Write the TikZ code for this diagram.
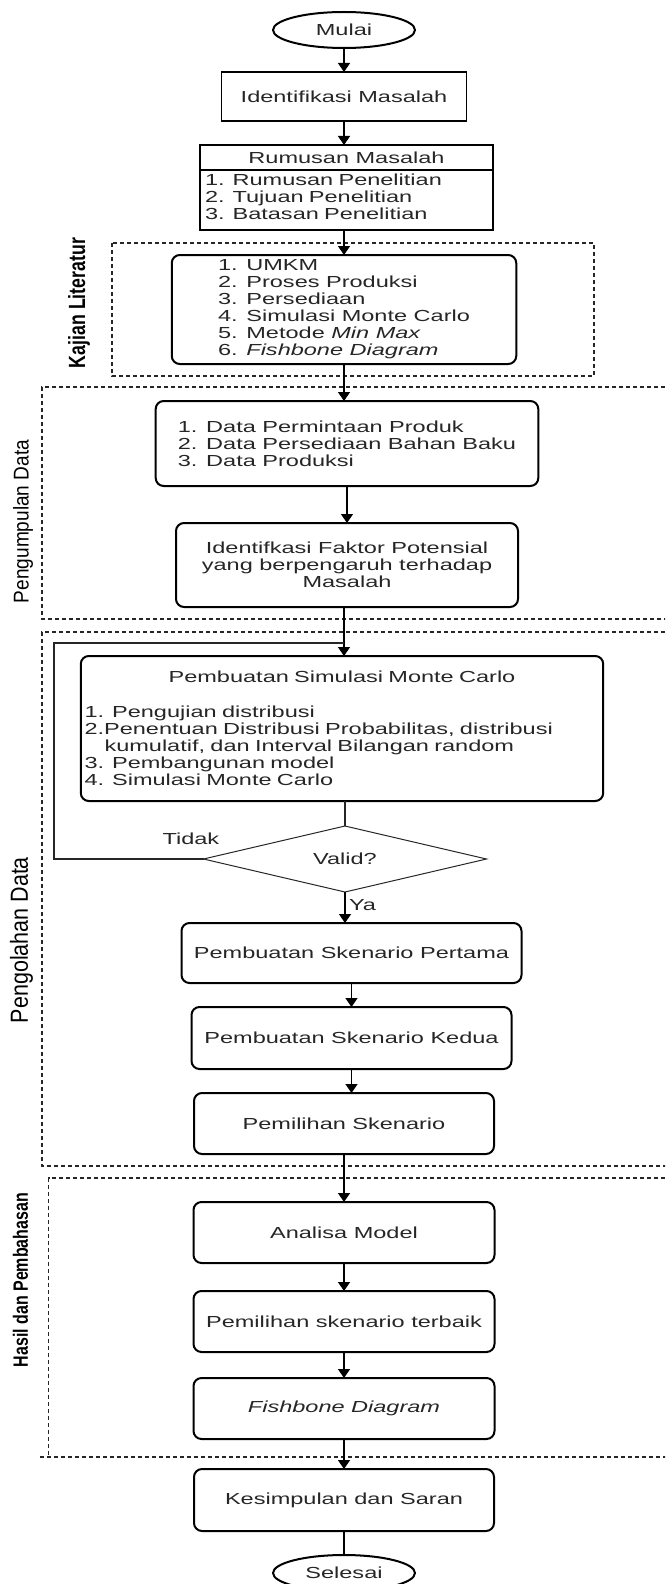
\documentclass[tikz,border=0pt]{standalone}
\usepackage{fontspec}
\usepackage{graphicx}
\setmainfont{Liberation Sans}
\newfontfamily\boxfont[FakeStretch=1.47]{Liberation Sans}
\usetikzlibrary{shapes.geometric, positioning, arrows.meta}
\definecolor{ink}{HTML}{262626}
\tikzset{node distance=24pt, % Default gap between two boxes
every node/.style={ % Text inside the boxes
font=\boxfont\fontsize{16}{17}\selectfont, text=ink},
term/.style={ % Start and end
ellipse, draw, line width=2pt, minimum width=142pt, minimum height=36pt, inner sep=0pt, outer sep=0pt},
plain/.style={ % Square boxes at the top
rectangle, draw, line width=1.4pt, inner sep=0pt, outer sep=0pt},
rbox/.style={ % Rounded process boxes
rectangle, draw, rounded corners=8pt, line width=2pt, inner sep=0pt, outer sep=0pt},
check/.style={ % Decision
diamond, aspect=4.3, draw=ink, line width=1pt, minimum width=283pt, minimum height=66pt, inner sep=0pt, outer sep=0pt},
frame/.style={ % Dashed section frames
draw=ink, line width=1.1pt, dash pattern=on 4pt off 3pt},
side/.style={ % Section names
rotate=90, text=black, inner sep=0pt, font=\rmfamily},
flow/.style={ % Connectors with arrow
draw, line width=1.4pt, -{Triangle[width=12pt,length=9pt]}},
link/.style={ % Connectors without arrow
draw=ink, line width=1.2pt}}

\begin{document}
\begin{tikzpicture}[x=1pt, y=-1pt]
    \useasboundingbox (0,0) rectangle (665,1584);
    \clip (0,0) rectangle (665,1584);

    % sections
    \draw[frame] (112,243) rectangle (594,376);
    \draw[frame] (700,387) -| (42,619) -- (700,619);
    \draw[frame] (700,632) -| (42,1166) -- (700,1166);
    \draw[frame] (700,1178) -| (48.8,1457);
    \draw[frame] (40,1457) -- (700,1457);

    \node[side] (lkajian) at (79,303) {\resizebox{130pt}{17pt}{\bfseries Kajian Literatur}};
    \node[side] (lkumpul) at (23,521.5) {\resizebox{163pt}{15.5pt}{Pengumpulan Data}};
    \node[side] (lolah) at (21.5,940) {\resizebox{166pt}{17.9pt}{Pengolahan Data}};
    \node[side] (lhasil) at (20.5,1280) {\resizebox{174pt}{15pt}{\bfseries Hasil dan Pembahasan}};

    % steps
    \node[term] (start) at (344,30) {Mulai};
    \node[plain, below=of start, minimum width=245pt, minimum height=49pt] (idm) {Identifikasi Masalah};
    \node[plain, below=of idm, xshift=2.5pt, minimum width=293pt, minimum height=25pt] (rumhead) {Rumusan Masalah};
    \node[plain, below=0pt of rumhead, text width=283pt, inner xsep=5pt, minimum height=60pt, align=left] (rumbody) {1. Rumusan Penelitian\\2. Tujuan Penelitian\\3. Batasan Penelitian\rule[-6pt]{0pt}{0pt}};
    \node[rbox, below=25pt of rumbody, xshift=-2.5pt, minimum width=344.5pt, minimum height=109pt, align=left] (kajian) {1. UMKM\\2. Proses Produksi\\3. Persediaan\\4. Simulasi Monte Carlo\\5. Metode \textit{Min Max}\\6. \textit{Fishbone Diagram}};
    \node[rbox, below=37pt of kajian, xshift=3pt, minimum width=382.6pt, minimum height=85pt, align=left] (data) {1. Data Permintaan Produk\\2. Data Persediaan Bahan Baku\\3. Data Produksi};
    \node[rbox, below=37pt of data, minimum width=342pt, minimum height=84pt, align=center] (faktor) {Identifkasi Faktor Potensial\\yang berpengaruh terhadap\\Masalah};
    \node[rbox, below=49pt of faktor, xshift=-5pt, text width=515pt, inner xsep=3.7pt, minimum height=145pt, align=left] (mc) {{\centering Pembuatan Simulasi Monte Carlo\par}\vspace{18pt}1. Pengujian distribusi\\2.Penentuan Distribusi Probabilitas, distribusi\\\hspace*{20pt}kumulatif, dan Interval Bilangan random\\3. Pembangunan model\\4. Simulasi Monte Carlo};
    \node[check, below=25pt of mc, xshift=3pt] (valid) {Valid?};
    \node[rbox, below=31pt of valid, xshift=6.5pt, minimum width=340pt, minimum height=60pt] (pertama) {Pembuatan Skenario Pertama};
    \node[rbox, below=of pertama, minimum width=320pt, minimum height=62pt] (kedua) {Pembuatan Skenario Kedua};
    \node[rbox, below=of kedua, xshift=-7.5pt, minimum width=300pt, minimum height=61pt] (pilih) {Pemilihan Skenario};
    \node[rbox, below=48pt of pilih, minimum width=301pt, minimum height=61pt] (analisa) {Analisa Model};
    \node[rbox, below=28pt of analisa, minimum width=301pt, minimum height=61pt] (terbaik) {Pemilihan skenario terbaik};
    \node[rbox, below=26pt of terbaik, minimum width=301pt, minimum height=61pt] (fishbone) {\textit{Fishbone Diagram}};
    \node[rbox, below=30pt of fishbone, minimum width=300pt, minimum height=62pt] (saran) {Kesimpulan dan Saran};
    \node[term, below=of saran] (finish) {Selesai};

    \coordinate (join) at (344,643);
    \coordinate (back) at (54,643);

    % connectors
    \draw[flow] (start) -- (idm);
    \draw[flow] (idm) -- (idm |- rumhead.north);
    \draw[flow] (kajian |- rumbody.south) -- (kajian);
    \draw[flow] (kajian) -- (kajian |- data.north);
    \draw[flow] (data) -- (faktor);
    \draw[flow] (join |- faktor.south) -- (join |- mc.north);
    \draw[link] (valid |- mc.south) -- (valid);
    \draw[link] (valid.west) -| (back) node[pos=0.042, above=10pt] {Tidak} -- (join);
    \draw[flow] (valid) -- (valid |- pertama.north) node[pos=0.42, right] {Ya};
    \draw[flow] (pertama) -- (kedua);
    \draw[flow] (kedua) -- (kedua |- pilih.north);
    \draw[flow] (pilih) -- (analisa);
    \draw[flow] (analisa) -- (terbaik);
    \draw[flow] (terbaik) -- (fishbone);
    \draw[flow] (fishbone) -- (saran);
    \draw[link, draw=black, line width=1.4pt] (saran) -- (finish);

\end{tikzpicture}
\end{document}
